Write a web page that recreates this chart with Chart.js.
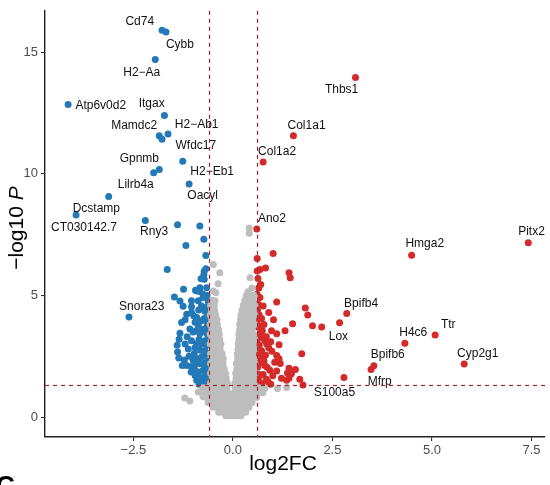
<!DOCTYPE html>
<html><head><meta charset="utf-8">
<script src="https://cdn.jsdelivr.net/npm/chart.js@4.4.0/dist/chart.umd.min.js"></script>
<style>html,body{margin:0;padding:0;background:#fff;}#wrap{width:550px;height:485px;position:relative;overflow:hidden;}</style>
</head><body><div id="wrap"><canvas id="c" width="550" height="485"></canvas></div>
<script>
// ---- data ----
const xTicks = [-2.5, 0, 2.5, 5, 7.5];
const yTicks = [0, 5, 10, 15];
const fcCut = [-0.6, 0.6];
const pCut = [1.301];

// down-regulated (blue): [log2FC, -log10 P]
const downPts = [
[-1.78,15.9],[-1.68,15.83],[-1.95,14.7],[-4.14,12.85],[-1.72,12.4],[-1.85,11.56],[-1.78,11.42],[-1.63,11.64],
[-1.26,10.52],[-1.99,10.04],[-1.85,10.18],[-1.10,9.58],[-3.12,9.07],[-3.94,8.31],[-2.20,8.08],[-1.39,7.90],
[-0.83,7.85],[-0.73,7.31],[-1.18,7.05],[-0.68,6.64],[-1.65,6.07],[-0.72,5.99],[-0.80,5.69],[-0.72,5.66],
[-1.24,5.25],[-0.94,5.21],[-0.83,5.16],[-0.75,5.05],[-1.47,4.94],[-1.33,4.77],[-1.04,4.78],[-0.87,4.78],
[-0.75,4.91],[-1.04,4.53],[-2.61,4.11],
[-1.29,3.89],[-1.33,3.44],[-1.39,2.67],[-1.36,2.43],[-1.27,2.12],[-1.16,2.12],[-1.04,2.08],[-0.97,2.60],
[-0.91,3.01],[-0.83,3.42],[-1.04,3.14],[-1.08,3.62],[-1.16,4.23],[-1.04,4.30],[-0.91,4.09],[-0.79,3.96],
[-0.87,3.76],[-0.79,4.57],[-0.91,5.18],[-0.83,5.32],[-0.73,5.86],[-0.66,5.32],[-0.69,4.50],[-0.66,3.69],
[-0.70,3.14],[-0.70,2.73],[-0.79,2.46],[-0.83,2.19],[-0.75,1.92],[-0.83,1.64],[-0.75,1.44],[-0.91,1.51],
[-0.95,1.71],[-0.87,1.85],[-1.20,3.00],[-1.12,2.80],[-1.00,2.35],[-0.92,2.20],[-1.10,2.50],[-1.22,2.35],
[-0.64,1.55],[-0.66,1.80],[-0.68,2.05],[-0.64,2.30],[-0.62,2.60],[-0.66,2.95],[-0.62,3.30],[-0.66,3.45],
[-0.64,3.90],[-0.63,4.20],[-0.70,4.35],[-0.86,4.40],[-0.95,3.90],[-1.00,3.50],[-1.15,3.30],[-0.85,3.20],
[-0.78,3.00],[-0.95,2.85],[-0.82,2.75],[-0.72,2.55],[-0.88,2.40],[-0.74,2.20],[-0.96,1.95],[-0.70,1.70],
[-0.78,1.55],[-0.66,1.38],[-0.85,1.35],[-1.05,1.85],[-1.20,4.00],[-1.40,2.95],[-1.35,3.20],[-0.76,3.60],
[-0.92,3.55],[-0.72,4.05],[-0.98,4.15],[-1.25,4.55],[-0.65,5.00],[-0.68,6.10],[-0.62,4.75]
];

// up-regulated (red)
const upPts = [
[3.08,13.96],[1.52,11.56],[0.76,10.48],[0.60,7.73],[7.42,7.16],[4.49,6.65],[2.86,4.26],[2.68,3.88],
[4.32,3.03],[5.08,3.37],[5.81,2.18],[3.54,2.11],[3.47,1.95],[2.79,1.63],
[1.82,4.48],[1.88,4.20],[2.00,3.75],[2.23,3.70],[1.50,3.84],[1.31,3.55],[1.10,4.73],[1.41,5.93],
[1.44,5.73],[1.10,3.42],[1.16,2.97],[1.73,2.60],[1.10,2.53],[1.16,2.40],[1.19,2.20],[1.10,1.89],
[1.41,2.01],[1.37,1.81],[1.57,1.95],[1.22,1.59],[1.41,1.60],[1.68,1.55],[1.76,1.32],
[1.01,6.72],[0.61,6.52],[0.68,6.07],[0.82,6.13],[0.61,6.00],[0.61,5.05],[0.68,4.91],[0.64,4.64],
[0.76,4.57],[0.97,3.55],[0.60,3.96],[0.64,3.69],[0.68,3.28],[0.80,3.14],[0.85,3.00],[0.60,2.80],
[0.72,2.73],[0.76,2.46],[0.64,2.19],[0.80,2.12],[0.93,1.92],[1.47,1.78],[0.64,1.58],[0.89,1.44],
[1.35,1.51],[0.68,1.34],
[0.62,1.45],[0.66,1.75],[0.62,2.05],[0.70,2.35],[0.62,2.60],[0.66,2.95],[0.62,3.20],[0.70,3.45],
[0.62,3.80],[0.66,4.20],[0.62,4.40],[0.72,4.05],[0.78,3.80],[0.74,3.55],[0.84,3.30],[0.90,2.85],
[0.82,2.55],[0.78,2.30],[0.86,2.05],[0.76,1.75],[0.84,1.55],[0.72,1.38],[0.95,1.35],[1.00,1.70],
[1.05,2.25],[0.98,2.70],[0.95,3.10],[1.02,4.00],[0.90,4.30],[0.65,5.30],[0.70,5.45],[0.63,5.70]
];

// not significant (grey)
const nsPts = [
// left arm
[-0.56,1.4],[-0.45,1.4],[-0.34,1.4],[-0.23,1.4],[-0.14,1.4],
[-0.52,1.6],[-0.40,1.6],[-0.28,1.6],[-0.17,1.6],
[-0.56,1.8],[-0.46,1.8],[-0.35,1.8],[-0.25,1.8],[-0.18,1.8],
[-0.52,2.0],[-0.42,2.0],[-0.31,2.0],[-0.22,2.0],
[-0.56,2.2],[-0.46,2.2],[-0.36,2.2],[-0.25,2.2],
[-0.51,2.4],[-0.41,2.4],[-0.30,2.4],[-0.24,2.4],
[-0.56,2.6],[-0.46,2.6],[-0.36,2.6],[-0.27,2.6],
[-0.52,2.8],[-0.42,2.8],[-0.32,2.8],
[-0.57,3.0],[-0.47,3.0],[-0.38,3.0],[-0.30,3.0],
[-0.53,3.2],[-0.43,3.2],[-0.33,3.2],
[-0.57,3.4],[-0.47,3.4],[-0.38,3.4],[-0.34,3.4],
[-0.53,3.6],[-0.43,3.6],[-0.36,3.6],
[-0.57,3.8],[-0.48,3.8],[-0.39,3.8],
[-0.53,4.0],[-0.44,4.0],[-0.40,4.0],
[-0.57,4.2],[-0.48,4.2],[-0.43,4.2],
[-0.53,4.4],[-0.46,4.4],[-0.56,4.6],[-0.47,4.6],[-0.52,4.8],
[-0.45,4.78],[-0.49,5.18],[-0.43,5.11],[-0.37,5.48],[-0.33,5.93],[-0.49,6.27],
// right arm
[0.05,1.4],[0.15,1.4],[0.25,1.4],[0.35,1.4],[0.45,1.4],[0.54,1.4],
[0.08,1.6],[0.19,1.6],[0.30,1.6],[0.41,1.6],[0.52,1.6],
[0.07,1.8],[0.15,1.8],[0.25,1.8],[0.36,1.8],[0.47,1.8],[0.55,1.8],
[0.10,2.0],[0.20,2.0],[0.31,2.0],[0.42,2.0],[0.52,2.0],
[0.09,2.2],[0.17,2.2],[0.27,2.2],[0.37,2.2],[0.48,2.2],[0.55,2.2],
[0.12,2.4],[0.22,2.4],[0.33,2.4],[0.44,2.4],[0.53,2.4],
[0.11,2.6],[0.19,2.6],[0.29,2.6],[0.39,2.6],[0.50,2.6],
[0.13,2.8],[0.24,2.8],[0.35,2.8],[0.46,2.8],[0.55,2.8],
[0.13,3.0],[0.21,3.0],[0.31,3.0],[0.41,3.0],[0.51,3.0],
[0.15,3.2],[0.26,3.2],[0.37,3.2],[0.48,3.2],[0.55,3.2],
[0.15,3.4],[0.23,3.4],[0.33,3.4],[0.43,3.4],[0.52,3.4],
[0.17,3.6],[0.28,3.6],[0.38,3.6],[0.49,3.6],
[0.17,3.8],[0.25,3.8],[0.35,3.8],[0.45,3.8],[0.55,3.8],
[0.19,4.0],[0.30,4.0],[0.40,4.0],[0.50,4.0],
[0.20,4.2],[0.27,4.2],[0.37,4.2],[0.47,4.2],[0.55,4.2],
[0.23,4.4],[0.33,4.4],[0.43,4.4],[0.52,4.4],
[0.26,4.6],[0.36,4.6],[0.46,4.6],[0.55,4.6],
[0.30,4.8],[0.40,4.8],[0.50,4.8],
[0.34,5.0],[0.45,5.0],[0.54,5.0],
[0.41,7.77],[0.41,7.56],[0.43,5.73],[0.48,5.30],[0.38,5.15],
// base below threshold
[-0.75,1.2],[-0.64,1.2],[-0.54,1.2],[-0.44,1.2],[-0.34,1.2],[-0.24,1.2],[-0.15,1.2],
[0.06,1.2],[0.15,1.2],[0.25,1.2],[0.35,1.2],[0.45,1.2],[0.55,1.2],[0.66,1.2],[0.80,1.17],[1.12,1.17],[1.35,1.21],
[-0.87,1.03],[-0.70,1.0],[-0.60,1.0],[-0.50,1.0],[-0.40,1.0],[-0.30,1.0],[-0.20,1.0],[-0.11,1.0],
[0.04,1.0],[0.13,1.0],[0.23,1.0],[0.33,1.0],[0.43,1.0],[0.53,1.0],[0.63,1.0],[0.75,1.0],
[-1.21,0.78],[-0.75,0.83],[-0.66,0.8],[-0.56,0.8],[-0.46,0.8],[-0.36,0.8],[-0.26,0.8],[-0.17,0.8],[-0.09,0.8],
[0.03,0.8],[0.11,0.8],[0.20,0.8],[0.30,0.8],[0.40,0.8],[0.50,0.8],[0.60,0.8],
[-1.08,0.66],[-0.62,0.6],[-0.52,0.6],[-0.42,0.6],[-0.32,0.6],[-0.22,0.6],[-0.13,0.6],[-0.06,0.6],
[0.02,0.6],[0.09,0.6],[0.18,0.6],[0.28,0.6],[0.38,0.6],[0.48,0.6],
[-0.50,0.4],[-0.40,0.4],[-0.30,0.4],[-0.20,0.4],[-0.10,0.4],[0.0,0.4],[0.10,0.4],[0.20,0.4],[0.30,0.4],[0.40,0.4],
[-0.36,0.2],[-0.26,0.2],[-0.16,0.2],[-0.06,0.2],[0.04,0.2],[0.14,0.2],[0.24,0.2],[0.32,0.2],
[-0.18,0.05],[-0.08,0.05],[0.02,0.05],[0.12,0.05],[0.20,0.05]
];

const labelGenes = ['Cd74','Cybb','H2\u2212Aa','Atp6v0d2','Itgax','Mamdc2','H2\u2212Ab1','Wfdc17','Gpnmb','H2\u2212Eb1',
  'Lilrb4a','Oacyl','Dcstamp','CT030142.7','Rny3','Snora23','Thbs1','Col1a1','Col1a2','Ano2',
  'Pitx2','Hmga2','Bpifb4','Lox','H4c6','Ttr','Cyp2g1','Bpifb6','Mfrp','S100a5'];
const labelPos = [[-2.34,16.24],[-1.33,15.29],[-2.29,14.16],[-3.32,12.79],[-2.04,12.87],[-2.48,11.97],[-0.91,12.03],[-0.93,11.14],[-2.35,10.62],[-0.52,10.08],
  [-2.44,9.56],[-0.76,9.10],[-3.43,8.58],[-3.74,7.77],[-1.98,7.63],[-2.29,4.54],[2.73,13.46],[1.85,11.99],[1.11,10.9],[0.98,8.16],
  [7.50,7.60],[4.82,7.14],[3.22,4.68],[2.65,3.32],[4.53,3.48],[5.41,3.78],[6.15,2.60],[3.89,2.56],[3.69,1.44],[2.55,0.99]];

// ---- chart ----
const FONT = "'Liberation Sans', Arial, Helvetica, sans-serif";
const toXY = a => a.map(p => ({x:p[0], y:p[1]}));
const fmtX = v => (v < 0 ? '\u2212' : '') + Math.abs(v).toFixed(1);

const annot = {
  id:'annot',
  afterDatasetsDraw(chart){
    const {ctx, chartArea:a, scales:{x, y}} = chart;
    ctx.save();
    ctx.strokeStyle = '#a8262b';
    ctx.lineWidth = 1.2;
    ctx.setLineDash([4,4]);
    fcCut.forEach(v => {
      const px = Math.round(x.getPixelForValue(v)) + 0.5;
      ctx.beginPath(); ctx.moveTo(px, a.top); ctx.lineTo(px, a.bottom); ctx.stroke();
    });
    pCut.forEach(v => {
      const py = Math.round(y.getPixelForValue(v)) + 0.5;
      ctx.beginPath(); ctx.moveTo(a.left, py); ctx.lineTo(a.right, py); ctx.stroke();
    });
    ctx.setLineDash([]);
    // labels
    ctx.fillStyle = '#111';
    ctx.font = '12px ' + FONT;
    ctx.textAlign = 'center';
    ctx.textBaseline = 'middle';
    labelGenes.forEach((g, i) => {
      ctx.fillText(g, x.getPixelForValue(labelPos[i][0]), y.getPixelForValue(labelPos[i][1]));
    });
    // x title
    ctx.fillStyle = '#000';
    ctx.font = '21px ' + FONT;
    ctx.textBaseline = 'alphabetic';
    ctx.fillText('log2FC', 283, 470);
    // y title
    ctx.translate(23, 228);
    ctx.rotate(-Math.PI/2);
    const t1 = '\u2212log10 ', t2 = 'P';
    ctx.font = '21px ' + FONT;
    const w1 = ctx.measureText(t1).width;
    ctx.font = 'italic 21px ' + FONT;
    const w2 = ctx.measureText(t2).width;
    const start = -(w1 + w2)/2;
    ctx.textAlign = 'left';
    ctx.font = '21px ' + FONT;
    ctx.fillText(t1, start, 0);
    ctx.font = 'italic 21px ' + FONT;
    ctx.fillText(t2, start + w1, 0);
    ctx.restore();
    // clipped panel letter of the next figure part
    ctx.save();
    ctx.fillStyle = '#000';
    ctx.font = 'bold 26px ' + FONT;
    ctx.textAlign = 'left';
    ctx.textBaseline = 'top';
    ctx.fillText('C', -4, 474);
    ctx.restore();
  }
};

new Chart(document.getElementById('c'), {
  type:'scatter',
  data:{datasets:[
    {data:toXY(nsPts), backgroundColor:'#bdbdbd', pointRadius:3.5, borderWidth:0, pointHoverRadius:3.5},
    {data:toXY(downPts), backgroundColor:'#2379b8', pointRadius:3.5, borderWidth:0, pointHoverRadius:3.5},
    {data:toXY(upPts), backgroundColor:'#d42a2a', pointRadius:3.5, borderWidth:0, pointHoverRadius:3.5}
  ]},
  options:{
    responsive:false, animation:false, devicePixelRatio:1,
    layout:{padding:{left:0, right:5, top:8, bottom:0}},
    plugins:{legend:{display:false}, tooltip:{enabled:false}, title:{display:false}},
    scales:{
      x:{type:'linear', min:-4.72, max:7.84,
        afterBuildTicks:s => { s.ticks = xTicks.map(v => ({value:v})); },
        afterFit:s => { s.height = 48; },
        grid:{drawOnChartArea:false, drawTicks:true, tickLength:4, color:'#333', lineWidth:1.1},
        border:{display:true, color:'#222', width:1.4},
        ticks:{color:'#4d4d4d', font:{size:13, family:FONT}, padding:2, maxRotation:0, autoSkip:false, callback:v => fmtX(v)}
      },
      y:{type:'linear', min:-0.82, max:16.7,
        afterBuildTicks:s => { s.ticks = yTicks.map(v => ({value:v})); },
        afterFit:s => { s.width = 45; },
        grid:{drawOnChartArea:false, drawTicks:true, tickLength:4, color:'#333', lineWidth:1.1},
        border:{display:true, color:'#222', width:1.4},
        ticks:{color:'#4d4d4d', font:{size:13, family:FONT}, padding:3, autoSkip:false, callback:v => String(v)}
      }
    }
  },
  plugins:[annot]
});
</script>
</body></html>
